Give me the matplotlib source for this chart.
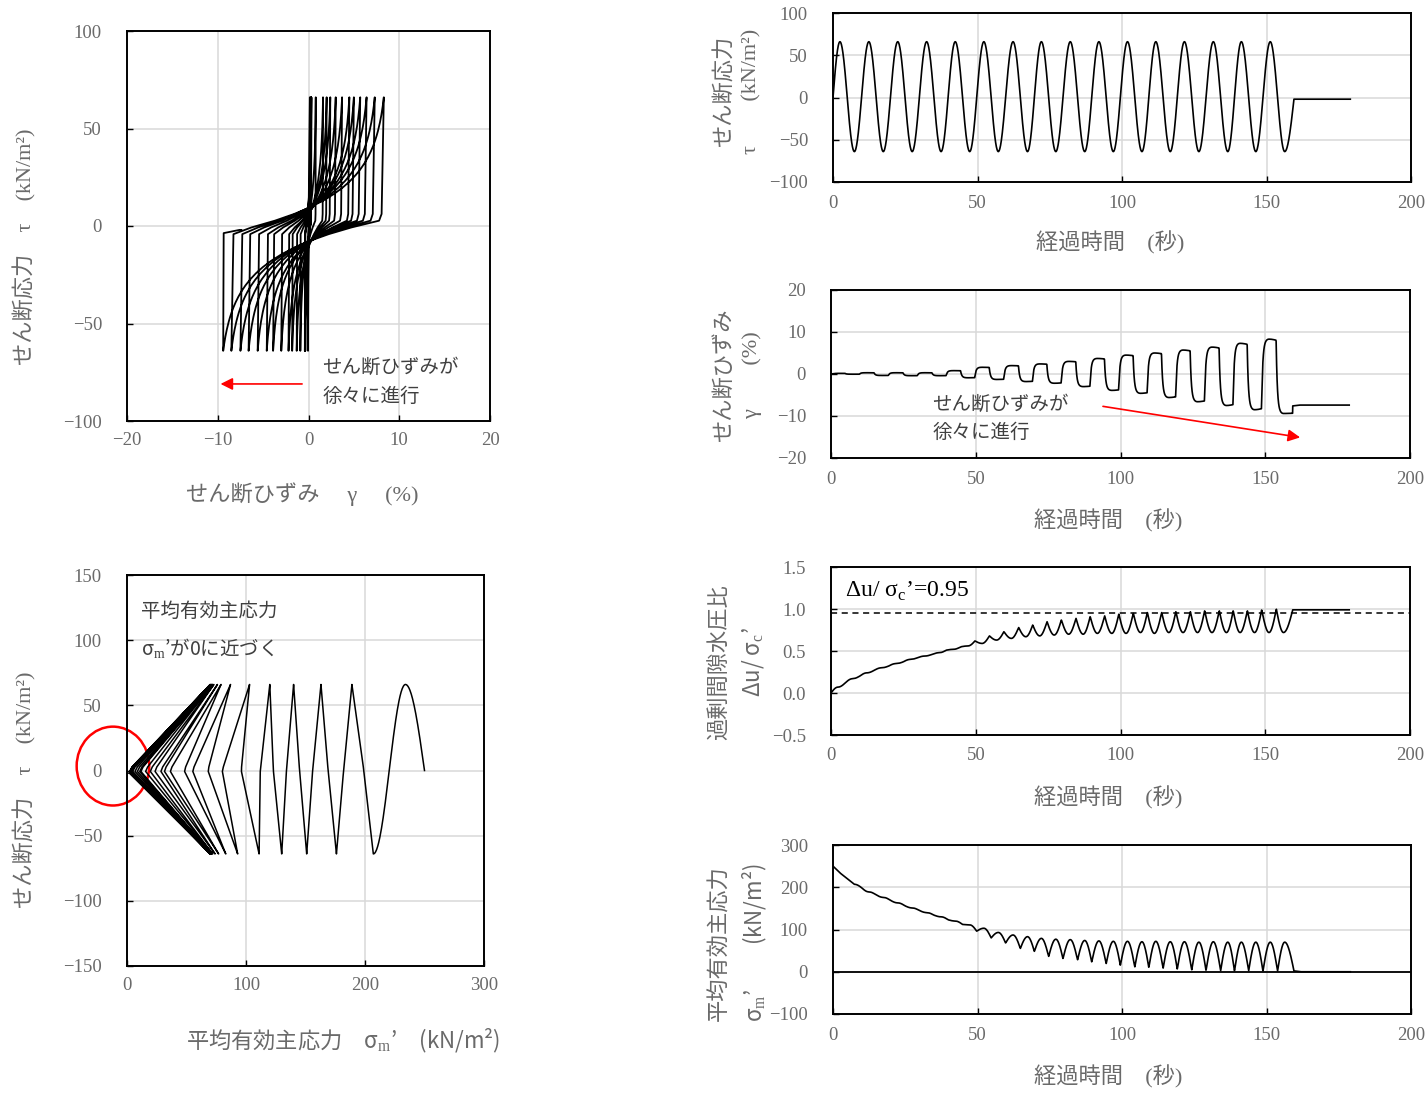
import numpy as np
import matplotlib.pyplot as plt
from matplotlib.patches import Ellipse

plt.rcParams['font.family'] = ['Liberation Serif', 'Noto Sans CJK JP']
plt.rcParams['mathtext.fontset'] = 'custom'
plt.rcParams['mathtext.rm'] = 'Liberation Serif'

# shear stress peaks / troughs
t_ext = [2.4, 7.4, 12.4, 17.4, 22.4, 27.4, 32.4, 37.4, 42.3, 47.3, 52.2, 57.2, 62.3, 67.3, 72.1, 77.1,
         82.1, 87.1, 92.0, 97.0, 101.9, 106.9, 111.7, 116.7, 121.6, 126.6, 131.6, 136.6, 141.3, 146.3, 151.3, 156.3]
tau_ext = [66, -64, 66, -64, 66, -64, 66, -64, 66, -64, 66, -64, 66, -64, 66, -64,
           66, -64, 66, -64, 66, -64, 66, -64, 66, -64, 66, -64, 66, -64, 66, -64]
# shear strain at those instants (%)
gam_ext = [0.15, -0.05, 0.3, -0.35, 0.3, -0.4, 0.3, -0.4, 0.8, -0.9, 1.6, -1.3, 2.0, -1.8, 2.4, -2.2,
           3.0, -3.0, 3.7, -3.9, 4.5, -4.6, 5.0, -5.6, 5.7, -6.6, 6.4, -7.5, 7.3, -8.5, 8.3, -9.4]
# mean effective stress at the stress peaks and where tau crosses zero
sig_ext = [234, 207, 189, 176, 163, 151, 140, 130, 120, 111, 103, 93, 87, 83, 79, 77,
           76, 74, 73, 72, 72, 71, 72, 71, 71, 70, 71, 70, 70, 70, 70, 70]
sig_zc = [221, 199, 182, 169, 156, 145, 134, 123, 112, 96, 80, 68, 55, 48, 36, 31,
          28, 23, 19, 15, 11, 10, 8, 6, 4, 3, 2, 2, 2, 1.5, 1.5]
# excess pore pressure ratio at the same instants
du_ext = [0.07, 0.17, 0.24, 0.30, 0.35, 0.40, 0.44, 0.48, 0.52, 0.56, 0.59, 0.63, 0.65, 0.67, 0.68, 0.69,
          0.70, 0.70, 0.71, 0.71, 0.71, 0.72, 0.71, 0.72, 0.72, 0.72, 0.72, 0.72, 0.72, 0.72, 0.72, 0.72]
du_zc = [0.12, 0.20, 0.27, 0.32, 0.37, 0.42, 0.46, 0.51, 0.55, 0.62, 0.68, 0.73, 0.78, 0.81, 0.85, 0.87,
         0.89, 0.91, 0.92, 0.94, 0.95, 0.96, 0.96, 0.97, 0.97, 0.98, 0.98, 0.98, 0.98, 0.99, 1.0]
# start of test and the unloaded tail
start = dict(t=0.0, tau=0.0, gam=0.0, sig=250.0, du=0.0)
t_tail = [159.5, 162.0, 179.0]
tau_tail = [-2, -2, -2]
gam_tail = [-7.6, -7.4, -7.4]
sig_tail = [2, 0, 0]
du_tail = [0.99, 0.99, 0.99]


def strain_shape(tau, tau_a, tau_b, k=18.0, q_s=-3.0, c=0.03):
    # strain builds up after tau passes ~0, then stiffens towards the peak
    d = np.sign(tau_b - tau_a)
    q, q_a, q_b = d * tau, d * tau_a, d * tau_b
    plast = np.where(q < q_s, 0.0, 1 - np.exp(-(q - q_s) / k)) / (1 - np.exp(-(q_b - q_s) / k))
    return c * (q - q_a) / (q_b - q_a) + (1 - c) * plast


T, TAU, GAM, SIG, DU = [], [], [], [], []
n = 60
s = np.linspace(0, 1, n)
# first quarter (stress decays with time here, so the path is rounded)
w = np.sin(np.pi / 2 * s)
T.append(start['t'] + (t_ext[0] - start['t']) * s)
TAU.append(tau_ext[0] * w)
GAM.append(gam_ext[0] * w)
SIG.append(start['sig'] + (sig_ext[0] - start['sig']) * s)
DU.append(start['du'] + (du_ext[0] - start['du']) * w)
# half cycles between peaks
for j in range(len(t_ext) - 1):
    ta, tb = tau_ext[j], tau_ext[j + 1]
    tau = ta + (tb - ta) * (1 - np.cos(np.pi * s)) / 2
    T.append(t_ext[j] + (t_ext[j + 1] - t_ext[j]) * s)
    TAU.append(tau)
    GAM.append(gam_ext[j] + (gam_ext[j + 1] - gam_ext[j]) * strain_shape(tau, ta, tb))
    first = (tau - ta) / (0 - ta)
    second = tau / tb
    same = np.sign(tau) == np.sign(ta)
    if j == 0:
        SIG.append(sig_ext[0] + (sig_ext[1] - sig_ext[0]) * s)
    else:
        SIG.append(np.where(same, sig_ext[j] + (sig_zc[j] - sig_ext[j]) * first,
                            sig_zc[j] + (sig_ext[j + 1] - sig_zc[j]) * second))
    DU.append(np.where(same, du_ext[j] + (du_zc[j] - du_ext[j]) * first,
                       du_zc[j] + (du_ext[j + 1] - du_zc[j]) * second))
# last unloading
ta, tb = tau_ext[-1], tau_tail[0]
w = 1 - np.cos(np.pi / 2 * s)
tau = ta + (tb - ta) * w
T.append(t_ext[-1] + (t_tail[0] - t_ext[-1]) * s)
TAU.append(tau)
GAM.append(gam_ext[-1] + (gam_tail[0] - gam_ext[-1]) * strain_shape(tau, ta, tb))
SIG.append(sig_ext[-1] + (sig_tail[0] - sig_ext[-1]) * w)
DU.append(du_ext[-1] + (du_tail[0] - du_ext[-1]) * w)
T.append(np.array(t_tail)); TAU.append(np.array(tau_tail, float)); GAM.append(np.array(gam_tail))
SIG.append(np.array(sig_tail, float)); DU.append(np.array(du_tail))

t = np.concatenate(T); tau = np.concatenate(TAU); gam = np.concatenate(GAM)
sig = np.concatenate(SIG); du = np.concatenate(DU)

W, H = 1426, 1094
fig = plt.figure(figsize=(W / 100, H / 100), dpi=100)

GRAY = '#6a6a6a'
TXT = '#404040'
JP = ['Liberation Serif', 'Noto Sans CJK JP']
JPM = ['Noto Sans CJK JP', 'Liberation Serif']   # for strings with mathtext


def add_ax(l, r, top, b):
    return fig.add_axes([l / W, 1 - b / H, (r - l) / W, (b - top) / H])


def style(ax, xlim, xticks, ylim, yticks, ypad=18, xpad=8):
    ax.set_xlim(xlim); ax.set_ylim(ylim)
    ax.set_xticks(xticks); ax.set_yticks(yticks)
    ax.grid(True, color='#d9d9d9', lw=1.1)
    ax.set_axisbelow(True)
    for sp in ax.spines.values():
        sp.set_linewidth(1.4)
    ax.tick_params(direction='in', length=4, width=1, labelcolor=GRAY, labelsize=13.5)
    ax.tick_params(axis='y', pad=ypad)
    ax.tick_params(axis='x', pad=xpad)


def label(x, y, s, rot=0, size=16, ls=1.2):
    fam = JPM if '$' in s else JP
    fig.text(x / W, 1 - y / H, s, rotation=rot, ha='center', va='center', multialignment='center',
             color=GRAY, fontsize=size, family=fam, linespacing=ls)


# hysteresis loop
axA = add_ax(127, 490, 31, 421)
style(axA, (-20, 20), [-20, -10, 0, 10, 20], (-100, 100), [-100, -50, 0, 50, 100])
axA.plot(gam, tau, color='black', lw=1.3)
axA.annotate('', xy=(-10, -81), xytext=(-0.4, -81),
             arrowprops=dict(arrowstyle='-|>', color='red', lw=1.2, mutation_scale=18))
axA.text(1.5, -80, 'せん断ひずみが\n徐々に進行', fontsize=14, color=TXT, family=JP,
         va='center', linespacing=1.75)
label(302, 494, 'せん断ひずみ　 γ　 (%)')
label(25, 247, 'せん断応力　τ　(kN/m²)', rot=90)

# stress path
axB = add_ax(127, 484, 575, 966)
style(axB, (0, 300), [0, 100, 200, 300], (-150, 150), [-150, -100, -50, 0, 50, 100, 150])
axB.plot(sig, tau, color='black', lw=1.1)
axB.text(11.5, 107, '平均有効主応力\nσ$_{\\rm m}$’が0に近づく', fontsize=14, color=TXT, family=JPM,
         va='center', linespacing=1.75)
axB.add_patch(Ellipse((-11.8, 3.4), 61, 60.5, fill=False, edgecolor='red', lw=1.8, clip_on=False))
label(343, 1041, '平均有効主応力　σ$_{\\rm m}$’　(kN/m²)')
label(25, 790, 'せん断応力　τ　(kN/m²)', rot=90)

tticks = [0, 50, 100, 150, 200]

axC = add_ax(833, 1411, 13, 182)
style(axC, (0, 200), tticks, (-100, 100), [-100, -50, 0, 50, 100], xpad=9)
axC.plot(t, tau, color='black', lw=1.2)
label(1110, 243, '経過時間　(秒)')
label(738, 91, 'せん断応力\nτ　　(kN/m²)', rot=90, ls=1.5)

axD = add_ax(831, 1410, 290, 458)
style(axD, (0, 200), tticks, (-20, 20), [-20, -10, 0, 10, 20], xpad=9)
axD.plot(t, gam, color='black', lw=1.2)
axD.annotate('', xy=(163, -15.2), xytext=(93, -7.6),
             arrowprops=dict(arrowstyle='-|>', color='red', lw=1.2, mutation_scale=18))
axD.text(35, -10.6, 'せん断ひずみが\n徐々に進行', fontsize=14, color=TXT, family=JP,
         va='center', linespacing=1.7)
label(1108, 521, '経過時間　(秒)')
label(738, 375, 'せん断ひずみ\nγ　　(%)', rot=90, ls=1.5)

axE = add_ax(831, 1410, 567, 735)
style(axE, (0, 200), tticks, (-0.5, 1.5), [-0.5, 0.0, 0.5, 1.0, 1.5], xpad=9)
axE.yaxis.set_major_formatter(plt.FuncFormatter(lambda v, p: f'{v:.1f}'.replace('-', '\u2212')))
axE.plot(t, du, color='black', lw=1.2)
axE.axhline(0.95, color='black', lw=1.1, ls=(0, (4, 3)))
axE.text(5, 1.21, 'Δu/ σ$_{\\rm c}$’=0.95', fontsize=17, color='black', family=JP, va='center')
label(1108, 798, '経過時間　(秒)')
label(737, 662, '過剰間隙水圧比\nΔu/ σ$_{\\rm c}$’', rot=90, ls=1.5)

axF = add_ax(833, 1411, 845, 1014)
style(axF, (0, 200), tticks, (-100, 300), [-100, 0, 100, 200, 300], xpad=9)
axF.axhline(0, color='black', lw=1.3)
axF.plot(t, sig, color='black', lw=1.2)
label(1108, 1077, '経過時間　(秒)')
label(738, 943, '平均有効主応力\nσ$_{\\rm m}$’　　(kN/m²)', rot=90, ls=1.5)

fig.savefig('out.png', dpi=100)
